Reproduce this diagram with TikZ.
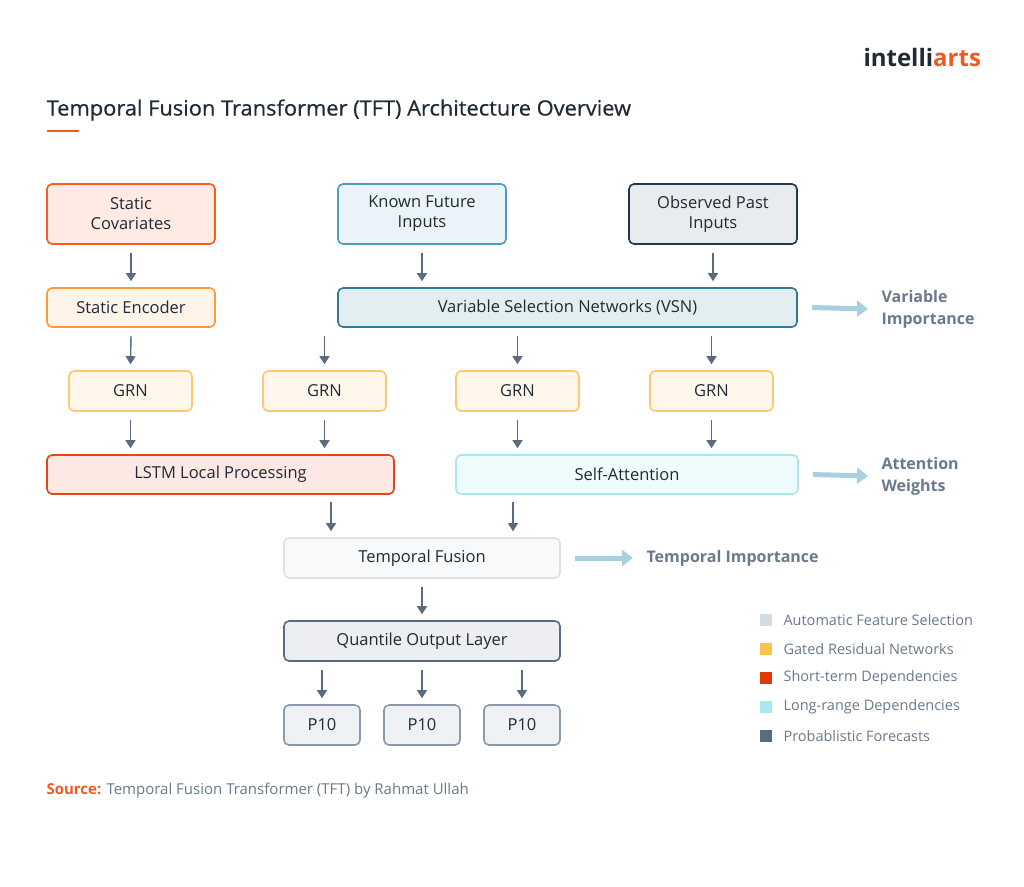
\documentclass[tikz,border=0pt]{standalone}
\usepackage{fontspec}
\setmainfont{Open Sans}
\usetikzlibrary{arrows.meta}
\definecolor{arr}{HTML}{5A6B80}
\definecolor{wide}{HTML}{A8D0E0}
\definecolor{txt}{HTML}{1F2A36}
\definecolor{leg}{HTML}{6A7A8C}
\definecolor{org}{HTML}{F05A22}
\begin{document}
\begin{tikzpicture}[x=1pt,y=-1pt,
 box/.style={draw,rounded corners=5pt,line width=1.6pt,text=txt,font=\fontsize{16.5}{20}\selectfont,align=center,inner sep=0pt},
 a/.style={draw=arr,line width=1.4pt,-{Triangle[length=8pt,width=10pt]}},
 w/.style={draw=wide,line width=5pt,-{Triangle[length=11pt,width=16pt]}},
 sl/.style={text=leg,font=\fontsize{16}{22}\selectfont\bfseries,align=left,anchor=west},
 lg/.style={text=leg,font=\fontsize{14.5}{16}\selectfont,anchor=west}]
\useasboundingbox (0,0) rectangle (1024,886);
\fill[white] (0,0) rectangle (1024,886);
\node[anchor=west,font=\fontsize{24}{26}\selectfont\bfseries] (logo) at (860,57) {\textcolor{txt}{intelli}\textcolor{org}{arts}};
\node[anchor=west,text=txt,font=\fontsize{21}{24}\selectfont,xscale=1.04] (title) at (43,110) {\addfontfeature{FakeBold=0.6}Temporal Fusion Transformer (TFT) Architecture Overview};
\fill[org] (47,130) rectangle (79,132);
\newcommand{\bx}[8]{\definecolor{dc}{HTML}{#6}\definecolor{fc}{HTML}{#7}\node[box,draw=dc,fill=fc,minimum width=#3-#2,minimum height=#5-#4] (#1) at ({(#2+#3)/2},{(#4+#5)/2}) {#8};}
\bx{sc}{47}{215}{184}{244}{FF5A1F}{FFEAE4}{Static\\Covariates}
\bx{kf}{338}{506}{184}{244}{4A9EC0}{EAF3F7}{Known Future\\Inputs}
\bx{op}{629}{797}{184}{244}{1F3A4D}{E8ECEF}{Observed Past\\Inputs}
\bx{se}{47}{215}{288}{327}{FF9A3A}{FFF4EA}{Static Encoder}
\bx{vsn}{338}{797}{288}{327}{2F7896}{E3EEF3}{Variable Selection Networks (VSN)}
\bx{g1}{69}{192}{371}{411}{FFC870}{FFF7EC}{GRN}
\bx{g2}{263}{386}{371}{411}{FFC870}{FFF7EC}{GRN}
\bx{g3}{456}{579}{371}{411}{FFC870}{FFF7EC}{GRN}
\bx{g4}{650}{773}{371}{411}{FFC870}{FFF7EC}{GRN}
\bx{lstm}{47}{394}{455}{494}{E8441A}{FDE8E3}{LSTM Local Processing}
\bx{sa}{456}{798}{455}{494}{A8E6F2}{F0FBFD}{Self-Attention}
\bx{tf}{284}{560}{538}{578}{DDE1E4}{F8F9FA}{Temporal Fusion}
\bx{qo}{284}{560}{621}{661}{5A6B80}{ECEEF1}{Quantile Output Layer}
\bx{p1}{284}{360}{705}{745}{8A9AAA}{EEF2F5}{P10}
\bx{p2}{384}{460}{705}{745}{8A9AAA}{EEF2F5}{P10}
\bx{p3}{484}{560}{705}{745}{8A9AAA}{EEF2F5}{P10}
% arrows
\tikzset{s/.style={yshift=-8pt},e/.style={yshift=6pt}}
\draw[a] ([s]sc.south) -- ([e]se.north);
\draw[a] ([s]kf.south) -- ([e]kf.south|-vsn.north);
\draw[a] ([s]op.south) -- ([e]op.south|-vsn.north);
\draw[a] ([s]se.south) -- ([e]g1.north);
\draw[a] ([s]g2.north|-vsn.south) -- ([e]g2.north);
\draw[a] ([s]g3.north|-vsn.south) -- ([e]g3.north);
\draw[a] ([s]g4.north|-vsn.south) -- ([e]g4.north);
\draw[a] ([s]g1.south) -- ([e]g1.south|-lstm.north);
\draw[a] ([s]g2.south) -- ([e]g2.south|-lstm.north);
\draw[a] ([s]g3.south) -- ([e]g3.south|-sa.north);
\draw[a] ([s]g4.south) -- ([e]g4.south|-sa.north);
\coordinate (l1) at (331,494); \coordinate (l2) at (513,494);
\draw[a] ([s]l1) -- ([e]l1|-tf.north);
\draw[a] ([s]l2) -- ([e]l2|-tf.north);
\draw[a] ([s]tf.south) -- ([e]qo.north);
\draw[a] ([s]p1.north|-qo.south) -- ([e]p1.north);
\draw[a] ([s]qo.south) -- ([e]p2.north);
\draw[a] ([s]p3.north|-qo.south) -- ([e]p3.north);
% outputs
\node[sl] (vi) at (878,309) {Variable\\Importance};
\node[sl] (aw) at (878,476) {Attention\\Weights};
\node[sl] (ti) at (643,558) {Temporal Importance};
\draw[w] ([xshift=14pt]vsn.east) -- ([xshift=-10pt]vi.west);
\draw[w] ([xshift=14pt]sa.east) -- ([xshift=-10pt]aw.west);
\draw[w] ([xshift=14pt]tf.east) -- ([xshift=-10pt]ti.west);
% legend
\foreach \yy/\c/\t [count=\i] in {620/D3DCE2/Automatic Feature Selection,649/FFC24D/Gated Residual Networks,678/E03A0A/Short-term Dependencies,707/A8E6F2/Long-range Dependencies,736/5A6B80/Probablistic Forecasts}{
 \definecolor{lc}{HTML}{\c}
 \fill[lc] (760,\yy-6) rectangle (772,\yy+6);
 \node[lg] (lg\i) at (780,\yy) {\t};}
\node[anchor=west,font=\fontsize{15}{17}\selectfont] (src) at (43,791) {\textcolor{org}{\bfseries Source:} \textcolor{leg}{Temporal Fusion Transformer (TFT) by Rahmat Ullah}};
\end{tikzpicture}
\end{document}
